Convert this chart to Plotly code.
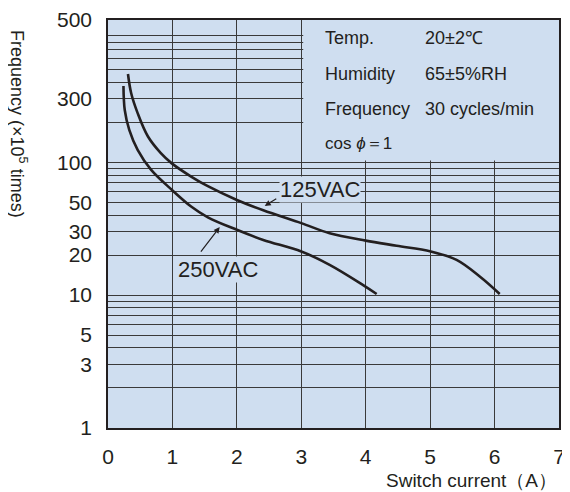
import math
import plotly.graph_objects as go

# values
current_125 = [0.31, 0.36, 0.46, 0.62, 0.82, 0.99, 1.29, 1.55, 2.0, 2.41, 3.0, 3.44, 4.0, 4.48, 5.01, 5.41, 5.77, 6.08]
freq_125 = [461, 330, 234, 156, 117, 98, 78, 66, 52, 43.5, 34.8, 29.2, 25.7, 23.5, 21.3, 18.4, 13.8, 10.2]

current_250 = [0.24, 0.26, 0.33, 0.46, 0.67, 0.99, 1.29, 1.55, 2.0, 2.41, 3.0, 3.44, 3.96, 4.17]
freq_250 = [375, 247, 175, 124, 87.5, 62, 46.4, 38.5, 31, 26, 21.3, 16.9, 11.9, 10.2]

x_ticks = [0, 1, 2, 3, 4, 5, 6, 7]
y_top = 10 ** 3.07
y_ticks = [1, 3, 5, 10, 20, 30, 50, 100, 300, y_top]
y_ticktext = ['1', '3', '5', '10', '20', '30', '50', '100', '300', '500']

conditions = [
    ('Temp.', '20±2℃'),
    ('Humidity', '65±5%RH'),
    ('Frequency', '30 cycles/min'),
]

BG = '#cfdef0'
INK = '#231f20'
GRID = '#3a3a3a'
FONT = 'Liberation Sans, Arial, sans-serif'

minor_vals = [m * 10 ** d for d in range(0, 4) for m in range(2, 10)]

fig = go.Figure()

fig.add_trace(go.Scatter(
    x=current_125, y=freq_125, mode='lines', name='125VAC',
    line=dict(color=INK, width=2.6, shape='spline', smoothing=1.0)
))
fig.add_trace(go.Scatter(
    x=current_250, y=freq_250, mode='lines', name='250VAC',
    line=dict(color=INK, width=2.6, shape='spline', smoothing=1.0)
))

# empty area behind the conditions text (hides grid there)
fig.add_shape(
    type='rect', xref='x', yref='y',
    x0=3.03, x1=7, y0=103, y1=y_top,
    fillcolor=BG, line=dict(width=0), layer='between'
)

annotations = []
rows_y = [2.932, 2.664, 2.398]
for (label, value), ly in zip(conditions, rows_y):
    annotations.append(dict(x=3.33, y=ly, xref='x', yref='y', text=label,
                            showarrow=False, xanchor='left', yanchor='middle',
                            font=dict(size=18, color=INK, family=FONT)))
    annotations.append(dict(x=4.89, y=ly, xref='x', yref='y', text=value,
                            showarrow=False, xanchor='left', yanchor='middle',
                            font=dict(size=18, color=INK, family=FONT)))
annotations.append(dict(x=3.33, y=2.143, xref='x', yref='y', text='cos <i>ϕ</i>＝1',
                        showarrow=False, xanchor='left', yanchor='middle',
                        font=dict(size=17, color=INK, family=FONT)))

# curve labels with arrows
annotations.append(dict(x=3.287, y=1.795, xref='x', yref='y', text='125VAC',
                        showarrow=False, bgcolor=BG, borderpad=0,
                        font=dict(size=22, color=INK, family=FONT)))
annotations.append(dict(x=2.433, y=math.log10(46.9), xref='x', yref='y', text='',
                        showarrow=True, axref='x', ayref='y',
                        ax=2.635, ay=math.log10(53.9),
                        arrowhead=2, arrowsize=1, arrowwidth=1.2, arrowcolor=INK))
annotations.append(dict(x=1.703, y=1.19, xref='x', yref='y', text='250VAC',
                        showarrow=False, bgcolor=BG, borderpad=0,
                        font=dict(size=22, color=INK, family=FONT)))
annotations.append(dict(x=1.734, y=math.log10(32.5), xref='x', yref='y', text='',
                        showarrow=True, axref='x', ayref='y',
                        ax=1.424, ay=math.log10(20.7),
                        arrowhead=2, arrowsize=1, arrowwidth=1.2, arrowcolor=INK))

# axis titles
annotations.append(dict(x=0, y=0.745, xref='paper', yref='paper', xshift=-89,
                        text='Frequency (×10<sup>5</sup> times)', textangle=90,
                        showarrow=False, xanchor='center', yanchor='middle',
                        font=dict(size=18, color=INK, family=FONT)))
annotations.append(dict(x=1, y=0, xref='paper', yref='paper', yshift=-52,
                        text='Switch current（A）', showarrow=False,
                        xanchor='right', yanchor='middle',
                        font=dict(size=19, color=INK, family=FONT)))

# the page puts the figure 8px in from the top-left corner
fig.update_layout(
    width=562, height=484,
    margin=dict(l=100, r=11, t=12, b=64, autoexpand=False),
    paper_bgcolor='white',
    plot_bgcolor=BG,
    showlegend=False,
    font=dict(family=FONT, color=INK),
    annotations=annotations,
    xaxis=dict(
        range=[0, 7], tickvals=x_ticks, automargin=False,
        showgrid=True, gridcolor=GRID, gridwidth=1.2, zeroline=False,
        showline=True, mirror=True, linecolor=INK, linewidth=1.5,
        ticks='outside', ticklen=9, tickcolor='rgba(0,0,0,0)',
        tickfont=dict(size=21, color=INK, family=FONT)
    ),
    yaxis=dict(
        type='log', range=[0, 3.07], tickvals=y_ticks, ticktext=y_ticktext,
        automargin=False,
        showgrid=True, gridcolor=GRID, gridwidth=1.2, zeroline=False,
        showline=True, mirror=True, linecolor=INK, linewidth=1.5,
        ticks='outside', ticklen=10, tickcolor='rgba(0,0,0,0)',
        tickfont=dict(size=21, color=INK, family=FONT),
        minor=dict(tickvals=minor_vals, showgrid=True, gridcolor=GRID, gridwidth=1.2)
    )
)

fig.write_html("out.html")
